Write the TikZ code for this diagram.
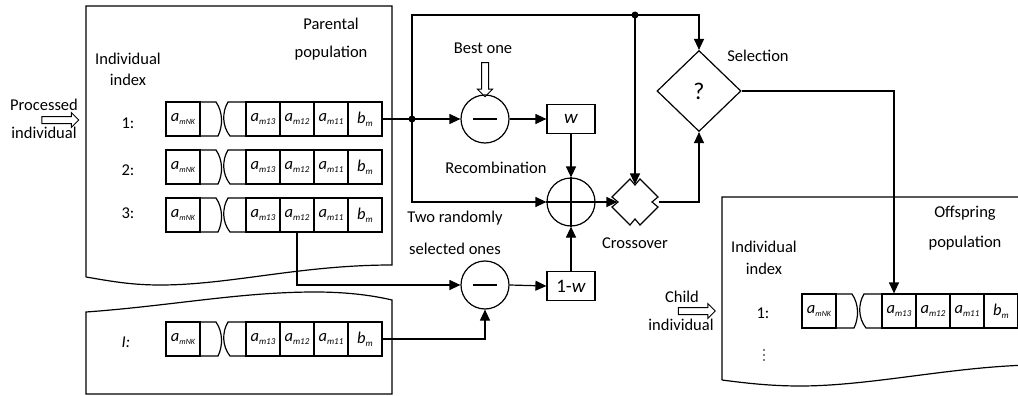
\documentclass[tikz,border=0pt]{standalone}
\usepackage{fontspec}
\setmainfont{Carlito}
\usetikzlibrary{arrows.meta,shapes.geometric,shapes.arrows}

% 基因位：斜体字母加小号下标
\newcommand\allele[3][9]{{\itshape #2\raisebox{-0.35ex}{\fontsize{#1}{#1}\selectfont #3}}}

% 一条个体编码：名称、左端x、中心y
\newcommand\generow[3]{%
  \begin{scope}[shift={(#2,#3)}]
    \node[gene] (#1-nk) at (17,0) {\allele[8]{a}{mNK}};
    % 中间断开的两格
    \draw (34,-17) -- (50,-17) .. controls (57,-7) and (57,7) .. (52,17) -- (34,17);
    \draw (80,-17) -- (62,-17) .. controls (56,-7) and (56,7) .. (64,17) -- (80,17);
    \node[gene] (#1-13) at (97,0) {\allele{a}{m13}};
    \node[gene] (#1-12) at (131,0) {\allele{a}{m12}};
    \node[gene] (#1-11) at (165,0) {\allele{a}{m11}};
    \node[gene] (#1-b) at (199,0) {\allele{b}{m}};
  \end{scope}}

\begin{document}
\begin{tikzpicture}[x=1pt,y=-1pt,line width=1.2pt,
  font=\fontsize{16.5}{19}\selectfont,
  gene/.style={draw,minimum width=34pt,minimum height=34pt,inner sep=0pt},
  op/.style={draw,circle,minimum size=48pt,inner sep=0pt},
  wbox/.style={draw,minimum width=48pt,minimum height=29pt,inner sep=0pt,
    font=\fontsize{19}{19}\selectfont},
  hollow/.style={draw,single arrow,single arrow head extend=4pt,
    inner sep=3pt,line width=1pt},
  link/.style={-{Triangle[length=11pt,width=10pt]}},
  dot/.style={circle,fill,inner sep=0pt,minimum size=7pt}]
  \clip (0,0) rectangle (1018,396);
  % 父代种群（下边为波浪线）
  \draw (86,277) -- (86,6) -- (392,6) -- (392,265)
    .. controls (300,265) and (230,285) .. (160,285)
    .. controls (130,285) and (110,281) .. (86,277);
  \node (par-a) at (331,24) {Parental};
  \node (par-b) at (331,53) {population};
  \node (pidx-a) at (128,59) {Individual};
  \node (pidx-b) at (128,80) {index};
  \generow{p1}{166}{119}
  \generow{p2}{166}{167}
  \generow{p3}{166}{215}
  \node (pl-1) at (128,123) {1:};
  \node (pl-2) at (128,170) {2:};
  \node (pl-3) at (128,213) {3:};
  % 第I个个体（上边为波浪线）
  \draw (86,312) .. controls (170,306) and (240,292) .. (315,292)
    .. controls (350,292) and (375,296) .. (392,300)
    -- (392,394) -- (86,394) -- cycle;
  \generow{pI}{166}{339}
  \node (pl-I) at (126,342) {\itshape I:};
  % 子代种群
  \draw (722,380) -- (722,197) -- (1030,197) -- (1030,365)
    .. controls (950,367) and (870,386) .. (800,386)
    .. controls (770,386) and (745,383) .. (722,380);
  \node (off-a) at (965,213) {Offspring};
  \node (off-b) at (965,243) {population};
  \node (oidx-a) at (764,247) {Individual};
  \node (oidx-b) at (764,269) {index};
  \generow{o1}{802}{311}
  \node (ol-1) at (763,313) {1:};
  \foreach \y in {350,355,360} \fill (764,\y) circle (0.9pt);
  % 输入箭头
  \node (proc-a) at (44,105) {Processed};
  \node (proc-b) at (44,133) {individual};
  \node[hollow,minimum height=37pt] (proc-in) at (58.5,120) {};
  \node (child-a) at (682,297) {Child};
  \node (child-b) at (681,325) {individual};
  \node[hollow,minimum height=37pt] (child-in) at (695,311) {};
  % 重组运算
  \node[op] (sub1) at (485,119) {\rule{24pt}{1.6pt}};
  \node[op] (sub2) at (485,285) {\rule{24pt}{1.6pt}};
  \node[op] (add) at (571,202) {};
  \draw (add.north) -- (add.south) (add.west) -- (add.east);
  \node[wbox] (w) at (571,119) {\itshape w};
  \node[wbox] (w1) at (571,286) {1-\textit{w}};
  \node (best) at (483,48) {Best one};
  \node[hollow,minimum height=34pt,shape border rotate=270] (best-in) at (485,78) {};
  \node (recomb) at (496,168) {Recombination};
  \node (rand-a) at (455,218) {Two randomly};
  \node (rand-b) at (455,249) {selected ones};
  % 交叉与选择
  \node[minimum size=34pt,inner sep=0pt] (cross) at (635,202) {};
  \draw (cross.center) ++(-5,-23) -- ++(5,6) -- ++(5,-6) -- ++(18,18) -- ++(-6,5)
    -- ++(6,5) -- ++(-18,18) -- ++(-5,-6) -- ++(-5,6) -- ++(-18,-18) -- ++(6,-5)
    -- ++(-6,-5) -- cycle;
  \node (cross-lbl) at (635,243) {Crossover};
  \node[diamond,draw,minimum width=84pt,minimum height=81pt,inner sep=0pt,
    font=\fontsize{24}{24}\selectfont] (sel) at (699,91) {?};
  \node (sel-lbl) at (758,56) {Selection};
  % 连线
  \node[dot] (jct) at (412,119) {};
  \node[dot] (top) at (635,15) {};
  \draw (p1-b.east) -- (jct.center);
  \draw[link] (jct.center) -- (sub1.west);
  \draw[link] (sub1.east) -- (w.west);
  \draw[link] (w.south) -- (add.north);
  \draw[link] (jct.center) |- (add.west);
  \draw (jct.center) |- (top.center);
  \draw[link] (top.center) -| (sel.north);
  \draw[link] (top.center) -- (cross.north);
  \draw[link] (add.east) -- (cross.west);
  \draw[link] ([xshift=6pt]cross.east) -| (sel.south);
  \draw[link] (sel.east) -| ([xshift=-5pt]o1-13.north);
  \draw[link] (p3-12.south) |- (sub2.west);
  \draw[link] (pI-b.east) -| (sub2.south);
  \draw[link] (sub2.east) -- (w1.west);
  \draw[link] (w1.north) -- (add.south);
\end{tikzpicture}
\end{document}
